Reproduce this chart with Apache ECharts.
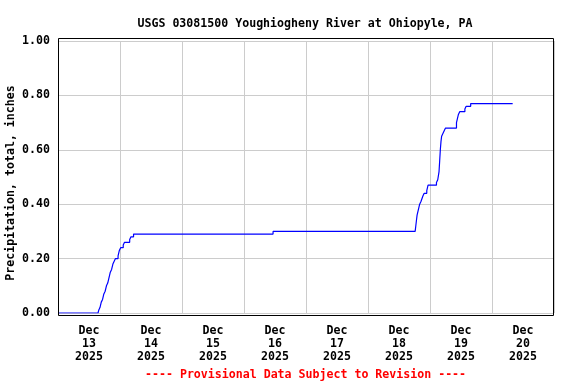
<!DOCTYPE html>
<html>
<head>
<meta charset="utf-8">
<script src="https://cdn.jsdelivr.net/npm/echarts@6/dist/echarts.min.js"></script>
<style>html,body{margin:0;padding:0;background:#fff}#c{width:576px;height:384px}</style>
</head>
<body>
<div id="c"></div>
<script>
var titleText = 'USGS 03081500 Youghiogheny River at Ohiopyle, PA';
var yName = 'Precipitation, total, inches';
var footerText = '---- Provisional Data Subject to Revision ----';
var dayLabels = ['Dec\n13\n2025','Dec\n14\n2025','Dec\n15\n2025','Dec\n16\n2025','Dec\n17\n2025','Dec\n18\n2025','Dec\n19\n2025','Dec\n20\n2025'];
var startTime = '2025-12-13T00:00:00';
var endTime = '2025-12-21T00:00:00';
var times = [
 '2025-12-13T00:00','2025-12-13T15:30','2025-12-13T15:45','2025-12-13T16:15','2025-12-13T16:45','2025-12-13T17:15',
 '2025-12-13T17:45','2025-12-13T18:15','2025-12-13T18:45','2025-12-13T19:15','2025-12-13T19:45','2025-12-13T20:15',
 '2025-12-13T20:45','2025-12-13T21:15','2025-12-13T21:45','2025-12-13T22:15','2025-12-13T23:15','2025-12-13T23:45',
 '2025-12-14T00:15','2025-12-14T01:15','2025-12-14T01:45','2025-12-14T03:45','2025-12-14T04:15','2025-12-14T05:15',
 '2025-12-16T11:15',
 '2025-12-18T18:15','2025-12-18T18:30','2025-12-18T18:45','2025-12-18T19:00','2025-12-18T19:30','2025-12-18T20:00',
 '2025-12-18T20:30','2025-12-18T21:15','2025-12-18T21:45','2025-12-18T22:45','2025-12-18T23:15',
 '2025-12-19T02:30','2025-12-19T03:00','2025-12-19T03:30','2025-12-19T03:45','2025-12-19T04:00','2025-12-19T04:15',
 '2025-12-19T04:30','2025-12-19T05:00','2025-12-19T05:30','2025-12-19T06:00','2025-12-19T10:15','2025-12-19T10:30',
 '2025-12-19T11:00','2025-12-19T11:30','2025-12-19T13:30','2025-12-19T14:00','2025-12-19T15:45','2025-12-20T08:00'
];
var values = [
 0.00,0.00,0.01,0.02,0.04,0.05,
 0.07,0.08,0.10,0.11,0.13,0.15,
 0.16,0.18,0.19,0.20,0.21,0.23,
 0.24,0.25,0.26,0.27,0.28,0.29,
 0.30,
 0.30,0.32,0.34,0.36,0.38,0.40,
 0.41,0.43,0.44,0.45,0.47,
 0.48,0.49,0.52,0.56,0.60,0.63,
 0.65,0.66,0.67,0.68,0.70,0.71,
 0.73,0.74,0.75,0.76,0.77,0.77
];
var yTicks = [0, 0.2, 0.4, 0.6, 0.8, 1.0];

var font = '"DejaVu Sans Mono", monospace';
var chart = echarts.init(document.getElementById('c'), null, {renderer: 'canvas'});
var t0 = new Date(startTime).getTime();
var t1 = new Date(endTime).getTime();
var HOUR = 3600 * 1000;
var data = times.map(function (t, i) { return [new Date(t).getTime(), values[i]]; });

chart.setOption({
  animation: false,
  backgroundColor: '#fff',
  title: {
    text: titleText, left: 300, top: 13, textAlign: 'center',
    textStyle: {fontFamily: font, fontSize: 11.6, fontWeight: 'bold', color: '#000'}
  },
  grid: {left: 58, top: 41, width: 496, height: 272, containLabel: false, outerBoundsMode: 'none'},
  xAxis: [{
    type: 'value', min: t0, max: t1, interval: 24 * HOUR,
    axisLine: {show: false}, axisTick: {show: false}, axisLabel: {show: false},
    splitLine: {show: true, lineStyle: {color: '#cccccc', width: 1}}
  }, {
    type: 'value', min: t0, max: t1, interval: 12 * HOUR, position: 'bottom',
    axisLine: {show: false}, axisTick: {show: false}, splitLine: {show: false},
    axisLabel: {
      show: true, margin: 11, lineHeight: 13,
      fontFamily: font, fontSize: 11.6, fontWeight: 'bold', color: '#000',
      formatter: function (v) {
        var h = Math.round((v - t0) / HOUR);
        if (h % 24 === 12) { return dayLabels[(h - 12) / 24]; }
        return '';
      }
    }
  }],
  yAxis: {
    type: 'value', min: yTicks[0], max: yTicks[yTicks.length - 1], interval: 0.2,
    axisLine: {show: false}, axisTick: {show: false},
    axisLabel: {margin: 8, padding: [3, 0, 0, 0], fontFamily: font, fontSize: 11.6, fontWeight: 'bold', color: '#000',
      formatter: function (v) { return v.toFixed(2); }},
    splitLine: {show: true, lineStyle: {color: '#cccccc', width: 1}}
  },
  graphic: [
    {type: 'rect', z: 100, silent: true,
     shape: {x: 58.5, y: 38.5, width: 495, height: 277},
     style: {fill: 'none', stroke: '#000', lineWidth: 1}},
    {type: 'text', x: 11, y: 183, rotation: Math.PI / 2, z: 100,
     style: {text: yName, fontFamily: font, fontSize: 11.6, fontWeight: 'bold', fill: '#000',
             align: 'center', verticalAlign: 'middle'}},
    {type: 'text', left: 145, top: 369, z: 100,
     style: {text: footerText, fontFamily: font, fontSize: 11.6, fontWeight: 'bold', fill: '#ff0000'}}
  ],
  series: [{
    type: 'line', xAxisIndex: 0, data: data, step: 'end', showSymbol: false,
    lineStyle: {color: '#0000ff', width: 1.2}, z: 50
  }]
});
</script>
</body>
</html>
